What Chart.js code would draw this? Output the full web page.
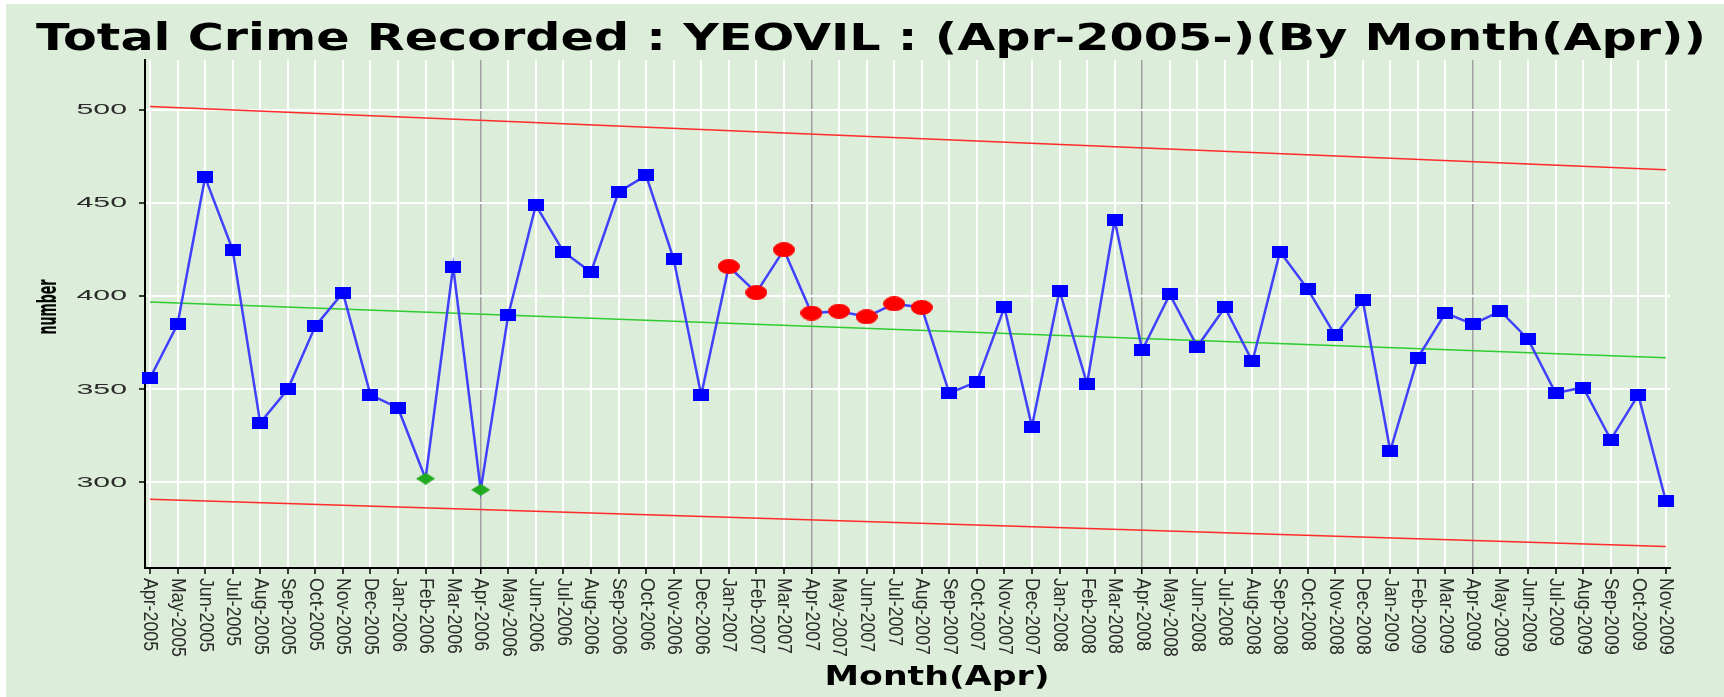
<!DOCTYPE html>
<html>
<head>
<meta charset="utf-8">
<script src="https://cdn.jsdelivr.net/npm/chart.js@4"></script>
<style>
  html, body { margin: 0; padding: 0; background: #ffffff; }
  #wrap { position: absolute; left: 6px; top: 4px; width: 1718px; height: 693px; background: #dcedd9; }
</style>
</head>
<body>
<div id="wrap"><canvas id="myChart"></canvas></div>
<script>
const titleText = 'Total Crime Recorded : YEOVIL : (Apr-2005-)(By Month(Apr))';
const xTitle = 'Month(Apr)';
const yTitle = 'number';

const months = ['Apr-2005', 'May-2005', 'Jun-2005', 'Jul-2005', 'Aug-2005', 'Sep-2005', 'Oct-2005', 'Nov-2005', 'Dec-2005',
  'Jan-2006', 'Feb-2006', 'Mar-2006', 'Apr-2006', 'May-2006', 'Jun-2006', 'Jul-2006', 'Aug-2006', 'Sep-2006', 'Oct-2006', 'Nov-2006', 'Dec-2006',
  'Jan-2007', 'Feb-2007', 'Mar-2007', 'Apr-2007', 'May-2007', 'Jun-2007', 'Jul-2007', 'Aug-2007', 'Sep-2007', 'Oct-2007', 'Nov-2007', 'Dec-2007',
  'Jan-2008', 'Feb-2008', 'Mar-2008', 'Apr-2008', 'May-2008', 'Jun-2008', 'Jul-2008', 'Aug-2008', 'Sep-2008', 'Oct-2008', 'Nov-2008', 'Dec-2008',
  'Jan-2009', 'Feb-2009', 'Mar-2009', 'Apr-2009', 'May-2009', 'Jun-2009', 'Jul-2009', 'Aug-2009', 'Sep-2009', 'Oct-2009', 'Nov-2009'];

const crimes = [356, 385, 464, 425, 332, 350, 384, 402, 347,
  340, 302, 416, 296, 390, 449, 424, 413, 456, 465, 420, 347,
  416, 402, 425, 391, 392, 389, 396, 394, 348, 354, 394, 330,
  403, 353, 441, 371, 401, 373, 394, 365, 424, 404, 379, 398,
  317, 367, 391, 385, 392, 377, 348, 351, 323, 347, 290];

// months flagged on the chart
const runAbove = ['Jan-2007', 'Feb-2007', 'Mar-2007', 'Apr-2007', 'May-2007', 'Jun-2007', 'Jul-2007', 'Aug-2007'];
const lowPoints = ['Feb-2006', 'Apr-2006'];

// start / end values of the straight lines
const upperLimit = [502, 468];
const centreLine = [397, 367];
const lowerLimit = [291, 265.5];

const yTicks = [300, 350, 400, 450, 500];

function marker(w, h, paint) {
  const c = document.createElement('canvas');
  c.width = w;
  c.height = h;
  paint(c.getContext('2d'), w, h);
  return c;
}
const blueBox = marker(16, 12, (g, w, h) => { g.fillStyle = '#0000ff'; g.fillRect(0, 0, w, h); });
const redDot = marker(22, 15, (g, w, h) => {
  g.fillStyle = '#ff0000';
  g.beginPath(); g.ellipse(w / 2, h / 2, w / 2, h / 2, 0, 0, 2 * Math.PI); g.fill();
});
const greenDiamond = marker(19, 12, (g, w, h) => {
  g.fillStyle = '#1faa1f';
  g.beginPath(); g.moveTo(w / 2, 0); g.lineTo(w, h / 2); g.lineTo(w / 2, h); g.lineTo(0, h / 2); g.closePath(); g.fill();
});

function endsOf(arr) {
  return [{x: 0, y: arr[0]}, {x: months.length - 1, y: arr[1]}];
}

function drawStretched(ctx, text, font, x, y, width, rot, align, baseline) {
  ctx.save();
  ctx.font = font;
  const sx = width / ctx.measureText(text).width;
  ctx.translate(x, y);
  ctx.rotate(rot);
  ctx.scale(sx, 1);
  ctx.textAlign = align;
  ctx.textBaseline = baseline;
  ctx.fillText(text, 0, 0);
  ctx.restore();
}

const textPlugin = {
  id: 'texts',
  afterDraw(chart) {
    const ctx = chart.ctx;
    const xs = chart.scales.x;
    const ys = chart.scales.y;
    ctx.fillStyle = '#000';
    drawStretched(ctx, titleText, 'bold 37px "DejaVu Sans"', 865, 46, 1670, 0, 'center', 'alphabetic');
    drawStretched(ctx, xTitle, 'bold 27px "DejaVu Sans"', 931, 681, 225, 0, 'center', 'alphabetic');
    drawStretched(ctx, yTitle, 'bold 27px "DejaVu Sans"', 50, 303, 55, -Math.PI / 2, 'center', 'alphabetic');

    ctx.fillStyle = '#2a2a2a';
    yTicks.forEach(v => {
      drawStretched(ctx, String(v), '15px "Liberation Sans"', 121, ys.getPixelForValue(v), 50.5, 0, 'right', 'middle');
    });

    ctx.save();
    ctx.font = '20px "Liberation Sans"';
    const sx = 73 / ctx.measureText('Apr-2005').width;
    months.forEach((m, i) => {
      ctx.save();
      ctx.translate(xs.getPixelForValue(i), 574);
      ctx.rotate(Math.PI / 2);
      ctx.scale(sx, 1);
      ctx.textAlign = 'left';
      ctx.textBaseline = 'middle';
      ctx.fillText(m, 0, 0);
      ctx.restore();
    });
    ctx.restore();
  }
};

const myChart = new Chart('myChart', {
  type: 'line',
  data: {
    datasets: [{
      data: crimes.map((v, i) => ({x: i, y: v})),
      borderColor: '#4040ff',
      borderWidth: 2.5,
      tension: 0,
      clip: false,
      pointRadius: 6,
      pointStyle: ctx => {
        const m = months[ctx.dataIndex];
        if (runAbove.includes(m)) return redDot;
        if (lowPoints.includes(m)) return greenDiamond;
        return blueBox;
      }
    }, {
      data: endsOf(upperLimit),
      borderColor: '#ff2a2a',
      borderWidth: 1.5,
      pointRadius: 0
    }, {
      data: endsOf(centreLine),
      borderColor: '#2ecc2e',
      borderWidth: 1.5,
      pointRadius: 0
    }, {
      data: endsOf(lowerLimit),
      borderColor: '#ff2a2a',
      borderWidth: 1.5,
      pointRadius: 0
    }]
  },
  options: {
    responsive: true,
    maintainAspectRatio: false,
    animation: false,
    layout: {padding: {left: 133, top: 56, right: 54, bottom: 123}},
    plugins: {
      legend: {display: false},
      title: {display: false},
      tooltip: {enabled: false}
    },
    scales: {
      x: {
        type: 'linear',
        min: -0.18,
        max: 55.15,
        afterBuildTicks: scale => { scale.ticks = months.map((m, i) => ({value: i})); },
        ticks: {display: false},
        grid: {
          color: ctx => (ctx.tick && ctx.tick.value > 0 && ctx.tick.value % 12 === 0) ? '#a0a0a0' : '#ffffff',
          lineWidth: ctx => (ctx.tick && ctx.tick.value > 0 && ctx.tick.value % 12 === 0) ? 1.5 : 2,
          tickColor: '#000',
          tickLength: 6,
          tickWidth: 1.5
        },
        border: {color: '#000', width: 2}
      },
      y: {
        min: 254,
        max: 527,
        afterBuildTicks: scale => { scale.ticks = yTicks.map(v => ({value: v})); },
        ticks: {display: false},
        grid: {
          color: '#ffffff',
          lineWidth: 2,
          tickColor: '#000',
          tickLength: 6,
          tickWidth: 1.5
        },
        border: {color: '#000', width: 2}
      }
    }
  },
  plugins: [textPlugin]
});
</script>
</body>
</html>
